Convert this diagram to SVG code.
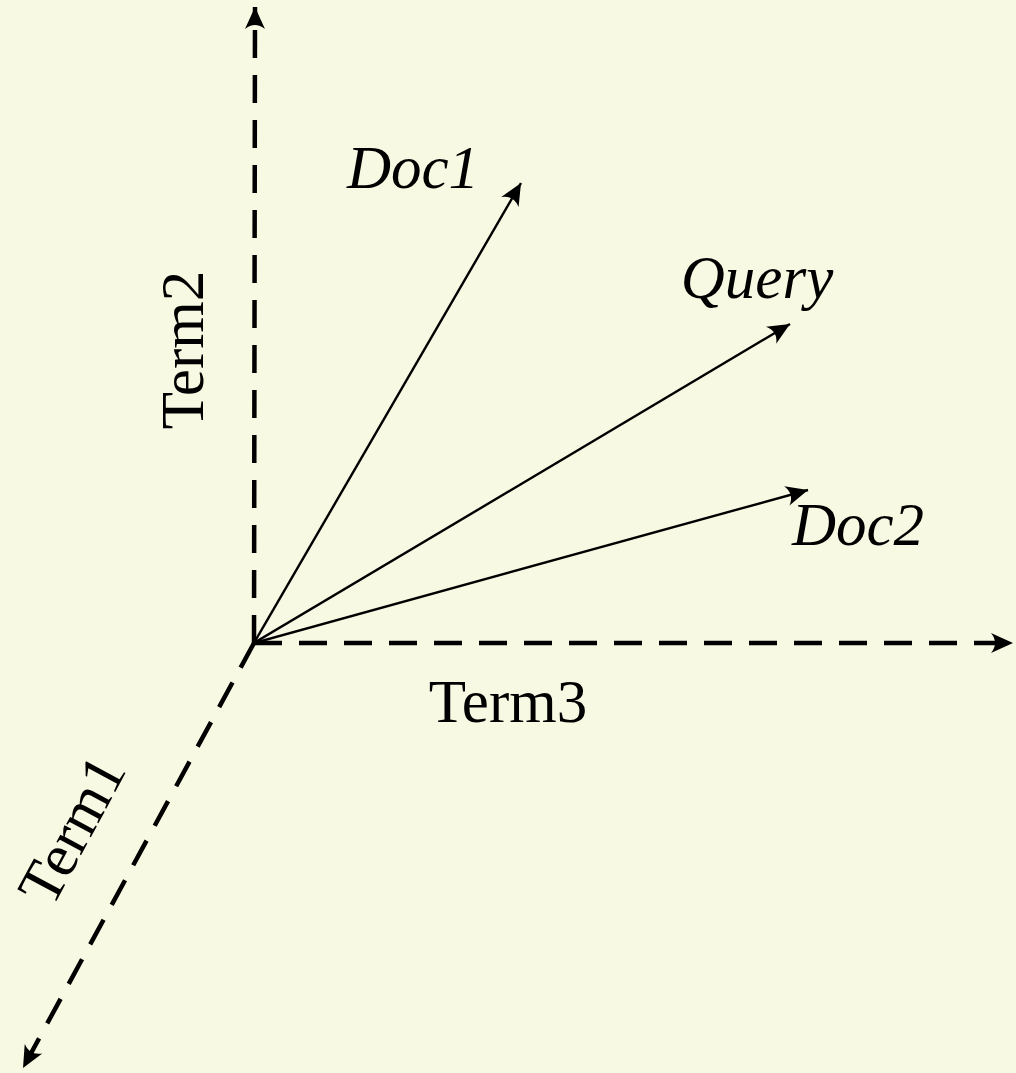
<svg xmlns="http://www.w3.org/2000/svg" width="1016" height="1073" viewBox="0 0 1016 1073">
<style>
.axis{stroke:#000;stroke-width:4.5;fill:none;stroke-dasharray:28 17}
.vec{stroke:#000;stroke-width:2.4;fill:none}
.lbl{font-family:"Liberation Serif",serif;font-size:61px;fill:#000;text-anchor:middle}
.it{font-style:italic}
</style>
<defs>
<marker id="ah" markerUnits="userSpaceOnUse" viewBox="-24 -12 26 24" refX="0" refY="0" markerWidth="26" markerHeight="24" orient="auto" overflow="visible">
<path d="M0,0 L-22,-10 Q-14,0 -22,10 Z" fill="#000"/>
</marker>
</defs>
<rect x="0" y="0" width="1016" height="1073" fill="#F8F9E3"/>
<g id="connectors">
<line class="axis" x1="254" y1="643" x2="255" y2="7" marker-end="url(#ah)"/>
<line class="axis" x1="254" y1="643" x2="1013" y2="643" marker-end="url(#ah)"/>
<line class="axis" x1="254" y1="643" x2="23" y2="1068" marker-end="url(#ah)"/>
<line class="vec" x1="254" y1="643" x2="521" y2="183" marker-end="url(#ah)"/>
<line class="vec" x1="254" y1="643" x2="790" y2="324" marker-end="url(#ah)"/>
<line class="vec" x1="254" y1="643" x2="808" y2="490" marker-end="url(#ah)"/>
</g>
<g id="term2"><text class="lbl" transform="translate(183,350) rotate(-90)" y="20">Term2</text></g>
<g id="term3"><text class="lbl" x="508" y="722">Term3</text></g>
<g id="term1"><text class="lbl" transform="translate(72,830) rotate(-61.7)" y="20">Term1</text></g>
<g id="doc1"><text class="lbl it" x="413" y="188">Doc1</text></g>
<g id="query"><text class="lbl it" x="757" y="298">Query</text></g>
<g id="doc2"><text class="lbl it" x="858" y="545">Doc2</text></g>
</svg>
